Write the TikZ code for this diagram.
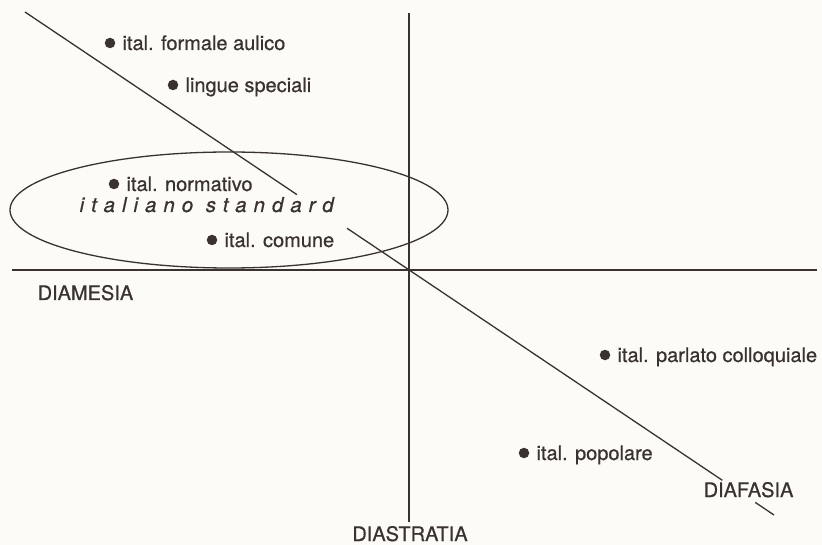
\documentclass[tikz,border=0pt]{standalone}
\usepackage{xcolor}
\usepackage{fontspec}
\setmainfont{TeX Gyre Heros}
\usepackage{tikz}
\usetikzlibrary{positioning, calc}

\definecolor{ink}{HTML}{3A322E}
\definecolor{paper}{HTML}{FCFBF8}

\newcommand{\labfont}{\fontsize{20}{22}\selectfont\addfontfeature{FakeBold=0.6}}

\tikzset{
	dot/.style={circle, fill=ink, inner sep=0pt, minimum size=10.5pt},
	lbl/.style={font=\labfont, inner sep=0pt, text height=14pt, text depth=0pt},
	dimlbl/.style={font=\labfont, inner sep=0pt}
}

\begin{document}
\begin{tikzpicture}[x=1pt, y=-1pt, line width=1.3pt, color=ink]
				\fill[paper] (0,0) rectangle (822,545);
				\useasboundingbox (0,0) rectangle (822,545);
				% the three dimensions
				\node[dimlbl, anchor=base west] (diamesia) at (37,300) {DIAMESIA};
				\node[dimlbl, anchor=base] (diastratia) at (410,541) {DIASTRATIA};
				\node[dimlbl, anchor=base west] (diafasia) at (703,497) {DIAFASIA};
				\coordinate (hL) at (12,270);
				\coordinate (hR) at (817,270);
				\coordinate (vT) at (409,13);
				\coordinate (vB) at (409,522);
				\coordinate (dA) at (25,12);
				\coordinate (dB) at (774,515);
				\draw (hL) -- (hR);
				\draw (vT) -- (vB);
				\draw (dA) -- ($(dA)!.363!(dB)$) ($(dA)!.43!(dB)$) -- ($(dA)!.931!(dB)$) ($(dA)!.975!(dB)$) -- (dB);
				% standard
				\draw (229,210) ellipse [x radius=219pt, y radius=58pt];
				\node[anchor=base west, inner sep=0pt, font=\fontsize{20.5}{22}\selectfont\itshape\addfontfeature{LetterSpace=34, FakeBold=0.6}] (standard) at (79,212) {italiano standard};
				% varieties
				\node[dot] (dotF) at (110,43) {};
				\node[lbl, right=6pt of dotF] (formale) {ital. formale aulico};
				\node[dot] (dotL) at (173,85) {};
				\node[lbl, right=6pt of dotL] (speciali) {lingue speciali};
				\node[dot] (dotN) at (114,184) {};
				\node[lbl, right=6pt of dotN] (normativo) {ital. normativo};
				\node[dot] (dotC) at (212,240) {};
				\node[lbl, right=6pt of dotC] (comune) {ital. comune};
				\node[dot] (dotP) at (605,355) {};
				\node[lbl, right=6pt of dotP] (parlato) {ital. parlato colloquiale};
				\node[dot] (dotO) at (524,453) {};
				\node[lbl, right=6pt of dotO] (popolare) {ital. popolare};
			\end{tikzpicture}
\end{document}
